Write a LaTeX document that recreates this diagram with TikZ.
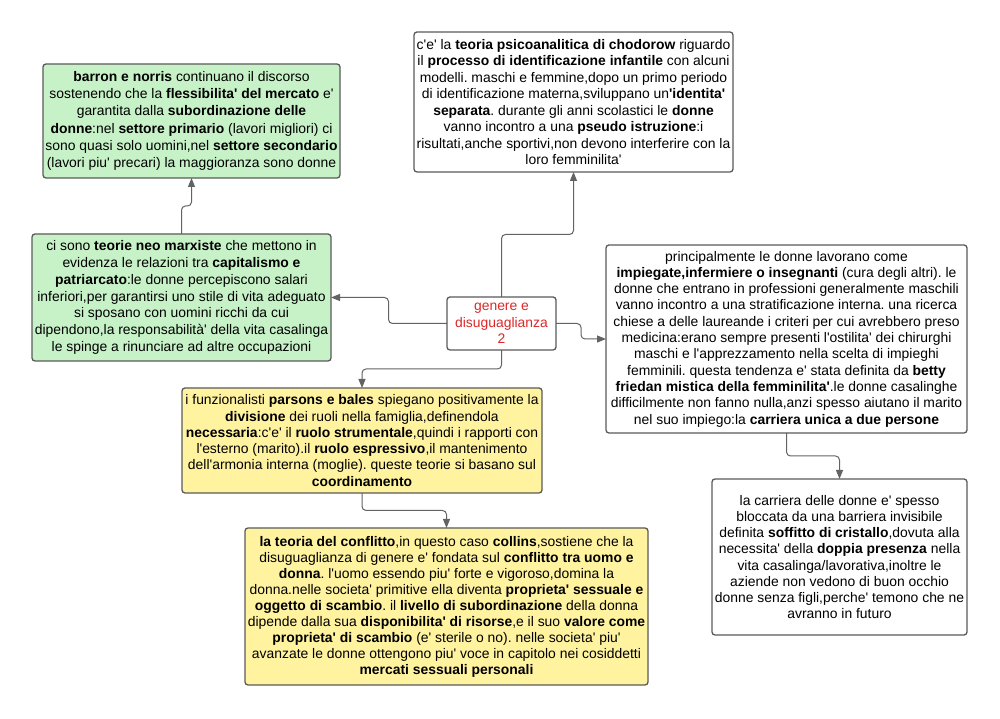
\documentclass[tikz,border=0pt]{standalone}
\usepackage{fontspec}
\newfontfamily\lib{Liberation Sans}
\usetikzlibrary{arrows.meta}
\definecolor{boxline}{HTML}{5A5A5A}
\definecolor{connline}{HTML}{636363}
\definecolor{greenfill}{HTML}{C7F2C7}
\definecolor{yellowfill}{HTML}{FFF3A0}
\definecolor{redtext}{HTML}{DC2828}
\tikzset{
  box/.style={draw=boxline, line width=1.3pt, rounded corners=3pt, fill=white,
    align=center, inner sep=0pt, outer sep=0pt, text=black},
  gbox/.style={box, fill=greenfill},
  ybox/.style={box, fill=yellowfill},
  arr/.style={draw=connline, line width=1pt, rounded corners=4pt,
    -{Triangle[length=9pt,width=7pt]}},
}
\newcommand{\fs}[1]{\lib\fontsize{13.9}{#1}\selectfont\frenchspacing}
\begin{document}
\begin{tikzpicture}[x=1pt,y=1pt]
\useasboundingbox[fill=white] (0,0) rectangle (1000,719);

\node[gbox, minimum width=297pt, minimum height=114pt, font=\fs{17.2}] (B1) at (191.5,598)
{\textbf{barron e norris} continuano il discorso\\
sostenendo che la \textbf{flessibilita' del mercato} e'\\
garantita dalla \textbf{subordinazione delle}\\
\textbf{donne}:nel \textbf{settore primario} (lavori migliori) ci\\
sono quasi solo uomini,nel \textbf{settore secondario}\\
(lavori piu' precari) la maggioranza sono donne};

\node[box, minimum width=319pt, minimum height=140pt, font=\fs{16.5}] (B2) at (573.5,617)
{c'e' la \textbf{teoria psicoanalitica di chodorow} riguardo\\
il \textbf{processo di identificazione infantile} con alcuni\\
modelli. maschi e femmine,dopo un primo periodo\\
di identificazione materna,sviluppano un\textbf{'identita'}\\
\textbf{separata}. durante gli anni scolastici le \textbf{donne}\\
vanno incontro a una \textbf{pseudo istruzione}:i\\
risultati,anche sportivi,non devono interferire con la\\
loro femminilita'};

\node[gbox, minimum width=299pt, minimum height=127pt, font=\fs{16.7}] (B3) at (181.5,421.5)
{ci sono \textbf{teorie neo marxiste} che mettono in\\
evidenza le relazioni tra \textbf{capitalismo e}\\
\textbf{patriarcato}:le donne percepiscono salari\\
inferiori,per garantirsi uno stile di vita adeguato\\
si sposano con uomini ricchi da cui\\
dipendono,la responsabilità' della vita casalinga\\
le spinge a rinunciare ad altre occupazioni};

\node[box, minimum width=109pt, minimum height=53pt, font=\fs{16.7}, text=redtext] (C) at (501.5,395.5)
{genere e\\disuguaglianza\\2};

\node[box, minimum width=361pt, minimum height=188pt, font=\fs{16.3}] (B5) at (786.5,380)
{principalmente le donne lavorano come\\
\textbf{impiegate,infermiere o insegnanti} (cura degli altri). le\\
donne che entrano in professioni generalmente maschili\\
vanno incontro a una stratificazione interna. una ricerca\\
chiese a delle laureande i criteri per cui avrebbero preso\\
medicina:erano sempre presenti l'ostilita' dei chirurghi\\
maschi e l'apprezzamento nella scelta di impieghi\\
femminili. questa tendenza e' stata definita da \textbf{betty}\\
\textbf{friedan mistica della femminilita'}.le donne casalinghe\\
difficilmente non fanno nulla,anzi spesso aiutano il marito\\
nel suo impiego:la \textbf{carriera unica a due persone}};

\node[ybox, minimum width=360pt, minimum height=105pt, font=\fs{16.3}] (B6) at (362,278.5)
{i funzionalisti \textbf{parsons e bales} spiegano positivamente la\\
\textbf{divisione} dei ruoli nella famiglia,definendola\\
\textbf{necessaria}:c'e' il \textbf{ruolo strumentale},quindi i rapporti con\\
l'esterno (marito).il \textbf{ruolo espressivo},il mantenimento\\
dell'armonia interna (moglie). queste teorie si basano sul\\
\textbf{coordinamento}};

\node[ybox, minimum width=403pt, minimum height=157pt, font=\fs{16}] (B7) at (446.5,112.5)
{\textbf{la teoria del conflitto},in questo caso \textbf{collins},sostiene che la\\
disuguaglianza di genere e' fondata sul \textbf{conflitto tra uomo e}\\
\textbf{donna}. l'uomo essendo piu' forte e vigoroso,domina la\\
donna.nelle societa' primitive ella diventa \textbf{proprieta' sessuale e}\\
\textbf{oggetto di scambio}. il \textbf{livello di subordinazione} della donna\\
dipende dalla sua \textbf{disponibilita' di risorse},e il suo \textbf{valore come}\\
\textbf{proprieta' di scambio} (e' sterile o no). nelle societa' piu'\\
avanzate le donne ottengono piu' voce in capitolo nei cosiddetti\\
\textbf{mercati sessuali personali}};

\node[box, minimum width=255pt, minimum height=156pt, font=\fs{16.2}] (B8) at (839.5,162)
{la carriera delle donne e' spesso\\
bloccata da una barriera invisibile\\
definita \textbf{soffitto di cristallo},dovuta alla\\
necessita' della \textbf{doppia presenza} nella\\
vita casalinga/lavorativa,inoltre le\\
aziende non vedono di buon occhio\\
donne senza figli,perche' temono che ne\\
avranno in futuro};

\draw[arr] (C.west) -- ++(-58.5,0) |- (B3.east);
\draw[arr] (B3.north) -- ++(0,28) -| (B1.south);
\draw[arr] (C.north) -- ++(0,62.5) -| (B2.south);
\draw[arr] (C.east) -- ++(25,0) |- (B5.west);
\draw[arr] (C.south) -- ++(0,-19) -| (B6.north);
\draw[arr] (B6.south) -- ++(0,-17.5) -| (B7.north);
\draw[arr] (B5.south) -- ++(0,-23) -| (B8.north);
\end{tikzpicture}
\end{document}
